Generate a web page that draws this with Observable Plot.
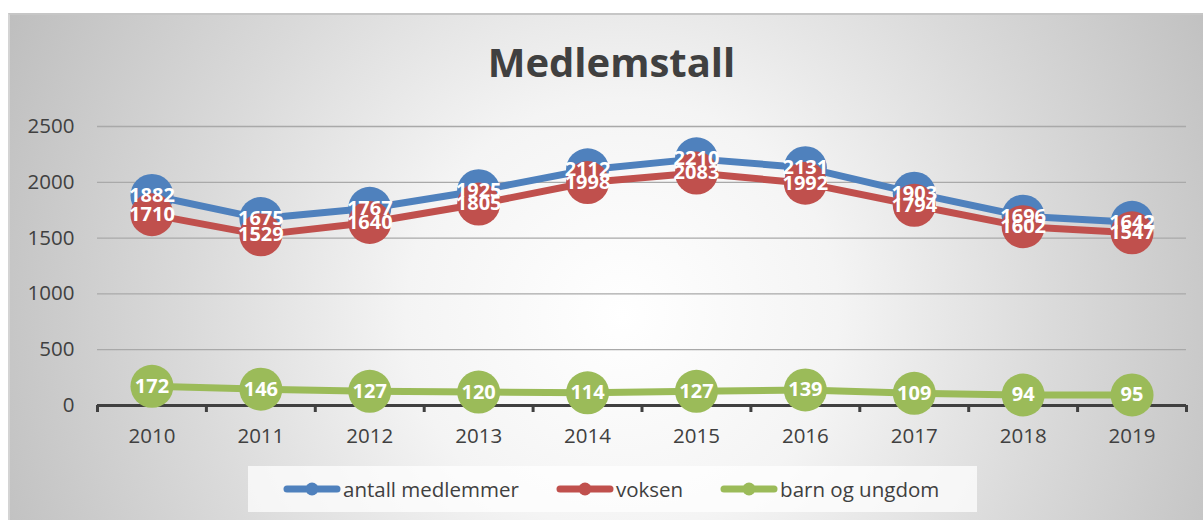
<!DOCTYPE html>
<html>
<head>
<meta charset="utf-8">
<script src="https://cdn.jsdelivr.net/npm/d3@7"></script>
<script src="https://cdn.jsdelivr.net/npm/@observablehq/plot@0.6"></script>
<style>
  html, body { margin: 0; padding: 0; background: #ffffff; }
  #wrap { position: relative; width: 1203px; height: 520px; overflow: hidden; font-family: "Open Sans", sans-serif; }
  #bg { position: absolute; left: 8px; top: 13px; right: 0; bottom: 0;
        border-top: 2px solid #c6c6c6; border-left: 2px solid #d4d4d4;
        background: radial-gradient(circle 720px at 612px 300px, #ffffff 0%, #f4f4f4 30%, #dadada 60%, #bababa 100%); }
  #chart { position: absolute; left: 0; top: 0; }
  #title { position: absolute; left: 0; width: 1223px; top: 42px; text-align: center;
           font-size: 40px; line-height: 40px; font-weight: bold; color: #404040; }
  #legend { position: absolute; left: 248px; top: 466px; width: 729px; height: 46px;
            background: rgba(255,255,255,0.72); display: flex; align-items: center;
            padding-left: 35px; box-sizing: border-box; gap: 37px; }
  .item { display: flex; align-items: center; font-size: 20.5px; color: #404040; }
  .item svg { margin-right: 2px; }
</style>
</head>
<body>
<div id="wrap">
  <div id="bg"></div>
  <div id="chart"></div>
  <div id="title">Medlemstall</div>
  <div id="legend"></div>
</div>
<script>
// ---- data ----
const years = [2010, 2011, 2012, 2013, 2014, 2015, 2016, 2017, 2018, 2019];
const seriesNames = ["antall medlemmer", "voksen", "barn og ungdom"];
const antallMedlemmer = [1882, 1675, 1767, 1925, 2112, 2210, 2131, 1903, 1696, 1642];
const voksen = [1710, 1529, 1640, 1805, 1998, 2083, 1992, 1794, 1602, 1547];
const barnOgUngdom = [172, 146, 127, 120, 114, 127, 139, 109, 94, 95];
const yTicks = [0, 500, 1000, 1500, 2000, 2500];
const colors = ["#4F81BD", "#C0504D", "#9BBB59"];

const seriesValues = [antallMedlemmer, voksen, barnOgUngdom];
const rows = seriesNames.map((name, s) => years.map((year, i) => ({ series: name, year, value: seriesValues[s][i] })));
const allRows = rows.flat();
const boundaries = years.map(y => y - 0.5).concat([years[years.length - 1] + 0.5]);

const font = "Open Sans";
const seriesMarks = rows.flatMap((data, s) => [
  Plot.line(data, { x: "year", y: "value", stroke: colors[s], strokeWidth: 7, strokeLinejoin: "round" }),
  Plot.dot(data, { x: "year", y: "value", r: 21.5, fill: colors[s], stroke: "none" })
]);

const chart = Plot.plot({
  width: 1203,
  height: 520,
  marginTop: 126,
  marginBottom: 115,
  marginLeft: 97,
  marginRight: 17,
  style: { background: "transparent", fontFamily: font, overflow: "visible" },
  x: { domain: [boundaries[0], boundaries[boundaries.length - 1]] },
  y: { domain: [0, 2500] },
  marks: [
    Plot.gridY(yTicks.filter(d => d > 0), { stroke: "#a9a9a9", strokeOpacity: 1, strokeWidth: 1.3 }),
    Plot.axisY(yTicks, { tickSize: 0, tickPadding: 23, fontSize: 20.5, fill: "#404040", label: null, tickFormat: d => String(d) }),
    Plot.ruleY([0], { stroke: "#404040", strokeWidth: 3 }),
    Plot.axisX(boundaries, { tickSize: 7, tickFormat: () => "", stroke: "#404040", strokeWidth: 3, label: null }),
    Plot.axisX(years, { tickSize: 0, tickPadding: 23, fontSize: 20.5, fill: "#404040", label: null, tickFormat: d => String(d) }),
    ...seriesMarks,
    Plot.text(allRows, { x: "year", y: "value", text: d => String(d.value), fill: "white", fontWeight: "bold", fontSize: 20, letterSpacing: "-0.5px" })
  ]
});
document.getElementById("chart").appendChild(chart);

// legend
const legend = document.getElementById("legend");
seriesNames.forEach((name, s) => {
  const item = document.createElement("div");
  item.className = "item";
  item.innerHTML = `<svg width="58" height="16"><line x1="4" y1="8" x2="54" y2="8" stroke="${colors[s]}" stroke-width="7" stroke-linecap="round"/><circle cx="29" cy="8" r="6.5" fill="${colors[s]}"/></svg><span>${name}</span>`;
  legend.appendChild(item);
});
</script>
</body>
</html>
